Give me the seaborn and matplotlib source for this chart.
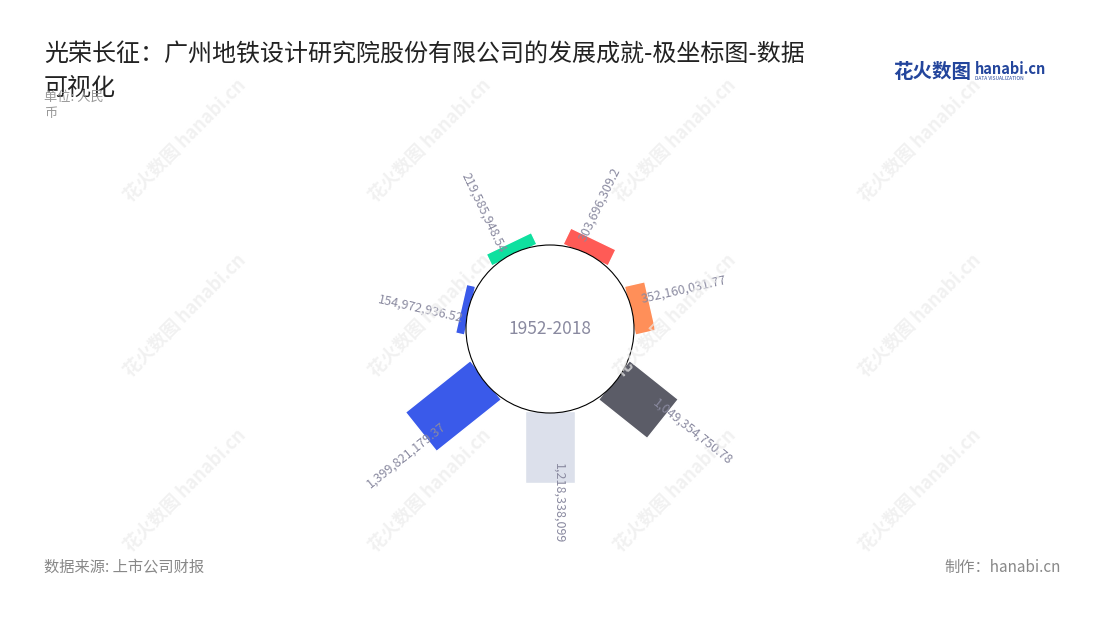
import numpy as np
import matplotlib
matplotlib.use('Agg')
import matplotlib.pyplot as plt
import seaborn as sns
from matplotlib.transforms import Affine2D
from matplotlib.patches import Circle

# data (单位: 人民币), order = clockwise from top
categories = ['类目1', '类目2', '类目3', '类目4', '类目5', '类目6', '类目7']
values = [303696309.2, 352160031.77, 1049354750.78, 1218338099,
          1399821179.37, 154972936.52, 219585948.54]
colors = ['#ff5b56', '#ff8f59', '#5b5c67', '#dce0eb', '#3a5aea', '#3a5aea', '#0fe09f']
center_label = '1952-2018'

sns.set_theme(style='white')
plt.rcParams['font.family'] = ['Noto Sans CJK SC', 'DejaVu Sans']

fig = plt.figure(figsize=(11, 6.2), dpi=100)
fig.patch.set_facecolor('white')

# chart axes, units = 亿元, origin at circle centre
k = 5.93              # pixels per 亿
PX = 1 / k
cx, cy = 550, 329
ax = fig.add_axes([0, 0, 1, 1])
ax.set_xlim(-cx * PX, (1100 - cx) * PX)
ax.set_ylim(-(620 - cy) * PX, cy * PX)
ax.set_aspect('equal')
ax.axis('off')

R0 = 82 * PX
W = 50 * PX
n = len(values)
text_col = '#8a8aa0'

for i, (v, c) in enumerate(zip(values, colors)):
    h = v / 1e8
    ang = 90 - (i + 0.5) * 360 / n
    bars = ax.bar(0, h, width=W, bottom=R0, color=c, zorder=2)
    bars.patches[0].set_transform(Affine2D().rotate_deg(ang - 90) + ax.transData)

    a = np.deg2rad(ang)
    r_lab = R0 + 0.75 * h - 2 * PX
    off = 9 * PX
    x = r_lab * np.cos(a) - off * np.sin(a)
    y = r_lab * np.sin(a) + off * np.cos(a)
    if np.cos(a) >= -1e-9:
        rot, ha = ang, 'left'
    else:
        rot, ha = ang + 180, 'right'
    ax.text(x, y, f'{v:,}', rotation=rot, rotation_mode='anchor', ha=ha, va='center',
            fontsize=9, color=text_col, zorder=5)

ax.add_patch(Circle((0, 0), 84 * PX, facecolor='white', edgecolor='black', lw=0.8, zorder=3))
ax.text(0, 0, center_label, ha='center', va='center', fontsize=12.5, color=text_col, zorder=5)

# watermarks
for wx in [185, 430, 675, 920]:
    for wy in [140, 315, 490]:
        fig.text(wx / 1100, 1 - wy / 620, '花火数图 hanabi.cn', rotation=45, ha='center', va='center',
                 fontsize=13, fontweight='bold', color='#ececec', alpha=0.7, zorder=0)

# title & notes
fig.text(44 / 1100, 1 - 54 / 620,
         '光荣长征：广州地铁设计研究院股份有限公司的发展成就-极坐标图-数据',
         fontsize=17.3, color='#222222', va='center', ha='left')
fig.text(44 / 1100, 1 - 88 / 620, '可视化', fontsize=17.3, color='#222222', va='center', ha='left')
fig.text(44 / 1100, 1 - 97 / 620, '单位: 人民', fontsize=9.5, color='#999999', va='center', ha='left')
fig.text(44 / 1100, 1 - 113 / 620, '币', fontsize=9.5, color='#999999', va='center', ha='left')

fig.text(44 / 1100, 1 - 567 / 620, '数据来源: 上市公司财报', fontsize=11, color='#888888', va='center', ha='left')
fig.text(1061 / 1100, 1 - 567 / 620, '制作：hanabi.cn', fontsize=11, color='#888888', va='center', ha='right')

# logo
fig.text(893 / 1100, 1 - 72 / 620, '花火数图', fontsize=14, fontweight='bold', color='#23459c', va='center', ha='left')
fig.text(975 / 1100, 1 - 69 / 620, 'hanabi.cn', fontsize=10.5, fontweight='bold', color='#23459c', va='center', ha='left')
fig.text(975 / 1100, 1 - 79 / 620, 'DATA VISUALIZATION', fontsize=3.5, color='#23459c', va='center', ha='left')

plt.savefig('out.png', dpi=100)
